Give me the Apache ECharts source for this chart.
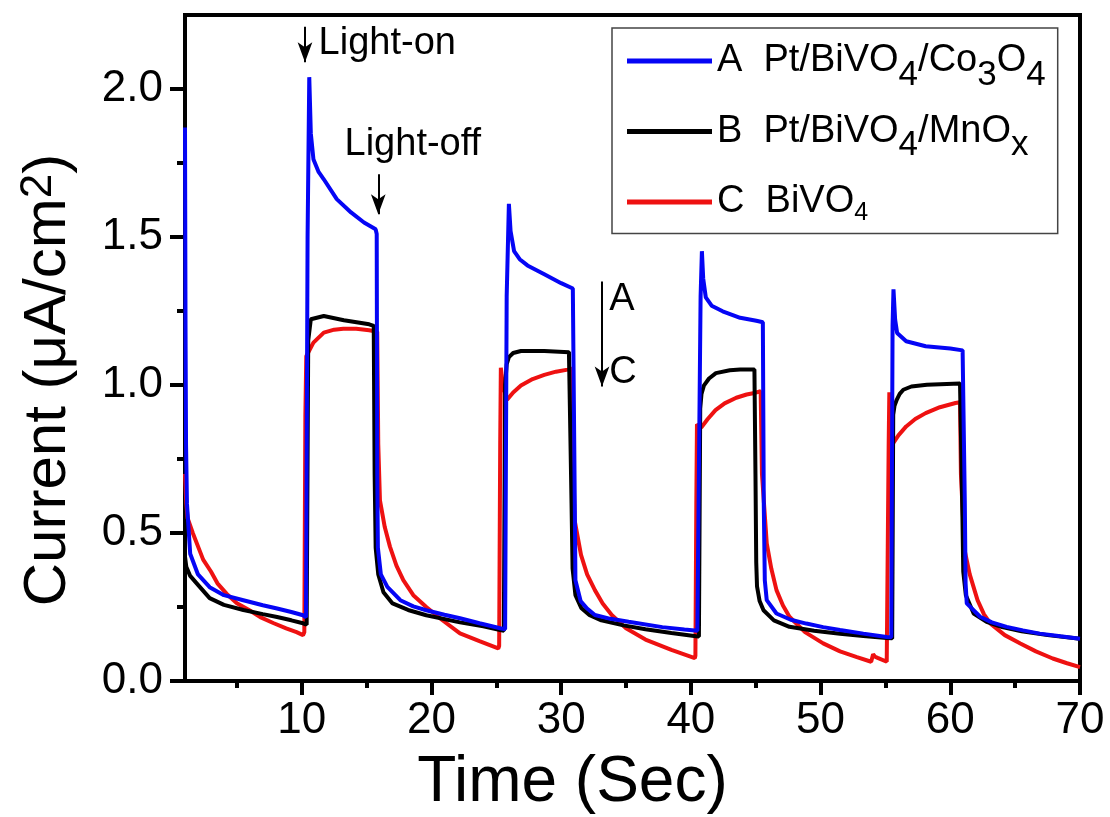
<!DOCTYPE html>
<html><head><meta charset="utf-8">
<script src="https://cdn.jsdelivr.net/npm/echarts@6/dist/echarts.min.js"></script>
<style>html,body{margin:0;padding:0;background:#fff}#c{width:1110px;height:817px}</style>
</head><body><div id="c"></div>
<script>
// ---- data ----
const xMajorTicks = [10, 20, 30, 40, 50, 60, 70];
const xMinorTicks = [5, 15, 25, 35, 45, 55, 65];
const yMajorTicks = [0, 0.5, 1.0, 1.5, 2.0];
const yMinorTicks = [0.25, 0.75, 1.25, 1.75];
const seriesNames = ['A', 'B', 'C'];
const legendTexts = {
  A: '{n|A  Pt/BiVO}{s|4}{n|/Co}{s|3}{n|O}{s|4}',
  B: '{n|B  Pt/BiVO}{s|4}{n|/MnO}{s|x}',
  C: '{n|C  BiVO}{c|4}'
};
const dataA = [[1.0,1.87],[1.04,1.2],[1.08,0.8],[1.15,0.6],[1.4,0.43],[2.0,0.36],[2.9,0.317],[4.0,0.29],[5.5,0.273],[7.0,0.256],[8.1,0.245],[9.2,0.233],[10.1,0.222],[10.33,0.215],
[10.45,1.5],[10.58,2.04],[10.7,1.85],[10.9,1.763],[11.3,1.72],[11.7,1.695],[12.7,1.628],[13.8,1.583],[14.8,1.549],[15.7,1.526],[15.78,1.51],
[15.82,0.7],[15.87,0.45],[16.1,0.36],[16.6,0.318],[17.6,0.273],[18.6,0.252],[19.6,0.239],[21,0.224],[22.2,0.212],[23.7,0.195],[25.3,0.178],[25.68,0.175],
[25.8,1.3],[25.97,1.612],[26.1,1.52],[26.37,1.452],[26.8,1.425],[27.4,1.404],[28.7,1.374],[30.0,1.344],[30.9,1.326],[31.0,1.32],
[31.05,0.6],[31.1,0.34],[31.5,0.27],[32.0,0.245],[32.6,0.223],[33.8,0.21],[35.2,0.2],[37.8,0.182],[39.5,0.174],[40.5,0.17],[40.62,0.17],
[40.75,1.3],[40.85,1.452],[40.95,1.36],[41.15,1.296],[41.6,1.268],[42.45,1.249],[43.8,1.227],[45.05,1.217],[45.55,1.212],
[45.62,0.6],[45.7,0.34],[45.85,0.273],[46.6,0.228],[47.7,0.207],[48.9,0.194],[50.2,0.182],[51.5,0.172],[53.3,0.16],[55.1,0.149],[55.45,0.148],
[55.55,1.2],[55.62,1.323],[55.75,1.22],[55.9,1.176],[56.6,1.148],[58.1,1.131],[60.0,1.123],[60.95,1.117],[61.05,1.115],
[61.12,0.6],[61.18,0.33],[61.27,0.262],[62.3,0.217],[63.2,0.198],[64.35,0.183],[65.6,0.171],[66.9,0.16],[68.5,0.151],[70,0.143]];
const dataB = [[1.0,0.42],[1.1,0.386],[1.4,0.355],[1.9,0.33],[2.9,0.28],[4.0,0.257],[5.5,0.24],[7.0,0.226],[8.1,0.216],[9.2,0.205],[10.1,0.195],[10.38,0.19],
[10.5,1.15],[10.7,1.222],[11.7,1.233],[13.25,1.219],[15.2,1.205],[15.55,1.2],
[15.62,0.7],[15.7,0.45],[15.9,0.36],[16.3,0.3],[17.0,0.262],[18.2,0.24],[19.6,0.222],[22.2,0.198],[24.0,0.185],[25.3,0.172],[25.58,0.17],
[25.68,1.0],[25.8,1.07],[25.97,1.094],[26.3,1.108],[26.9,1.115],[28.7,1.115],[30.6,1.111],[30.72,1.105],
[30.8,0.6],[30.88,0.38],[31.1,0.29],[31.55,0.247],[32.2,0.222],[33.1,0.205],[34.8,0.188],[36.5,0.175],[38.5,0.162],[40.4,0.151],[40.62,0.15],
[40.72,0.92],[40.82,0.97],[41.0,0.998],[41.4,1.022],[41.93,1.04],[43.0,1.05],[43.8,1.052],[44.9,1.052],
[44.98,0.7],[45.04,0.4],[45.1,0.32],[45.3,0.27],[45.6,0.239],[46.4,0.205],[47.6,0.183],[49.5,0.17],[51.5,0.16],[53.3,0.152],[55.1,0.145],[55.52,0.144],
[55.6,0.9],[55.7,0.93],[55.87,0.95],[56.1,0.97],[56.38,0.984],[57.0,0.995],[58.2,1.001],[60.75,1.005],[60.85,1.0],
[60.92,0.6],[61.0,0.37],[61.2,0.29],[61.8,0.228],[62.8,0.2],[64.0,0.182],[65.5,0.168],[67.5,0.155],[70,0.143]];
const dataC = [[1.0,0.70],[1.1,0.6],[1.2,0.55],[1.6,0.5],[2.4,0.41],[3.0,0.37],[3.5,0.33],[4.2,0.295],[5.0,0.263],[6.0,0.238],[6.8,0.216],[7.8,0.196],[8.8,0.178],[9.6,0.165],[10.1,0.155],[10.2,0.165],
[10.28,0.9],[10.35,1.097],[10.9,1.143],[11.7,1.177],[12.5,1.187],[13.2,1.19],[14.2,1.19],[15.2,1.185],[15.82,1.18],
[15.9,0.8],[16.03,0.61],[16.4,0.52],[16.8,0.454],[17.3,0.39],[17.83,0.341],[18.6,0.29],[19.6,0.25],[20.8,0.207],[22.2,0.161],[23.7,0.135],[25.15,0.11],[25.22,0.118],
[25.3,0.8],[25.35,1.058],[25.5,1.0],[25.83,0.95],[26.3,0.975],[26.9,0.998],[27.8,1.02],[28.7,1.034],[29.6,1.045],[30.5,1.052],[30.85,1.055],
[30.92,0.8],[31.03,0.545],[31.53,0.426],[32.0,0.36],[32.6,0.307],[33.2,0.262],[33.9,0.223],[35.0,0.178],[36.5,0.14],[38.5,0.105],[40.3,0.077],[40.35,0.085],
[40.42,0.6],[40.47,0.867],[40.8,0.856],[41.3,0.885],[41.9,0.915],[42.6,0.938],[43.5,0.957],[44.3,0.968],[45.0,0.974],[45.38,0.979],
[45.48,0.7],[45.85,0.465],[46.2,0.38],[46.6,0.307],[47.1,0.255],[47.6,0.217],[48.8,0.165],[50.2,0.127],[51.5,0.1],[52.8,0.081],[53.9,0.065],[54.05,0.09],[54.2,0.082],[54.4,0.078],[55.1,0.065],[55.2,0.07],
[55.25,0.8],[55.3,0.975],[55.38,0.85],[55.6,0.804],[56.0,0.83],[56.6,0.86],[57.3,0.885],[58.1,0.905],[59.2,0.925],[60.4,0.939],[60.75,0.942],
[60.82,0.7],[61.1,0.443],[61.5,0.36],[62.1,0.273],[62.6,0.225],[63.1,0.194],[64.2,0.155],[65.4,0.127],[66.6,0.1],[67.9,0.076],[69,0.06],[70,0.047]];
// annotation arrows: [x, yFrom, yTo] in data units
const arrows = [[10.25, 2.21, 2.09], [15.9, 1.712, 1.577], [33.15, 1.35, 0.995]];
// annotation texts: [label, x, y] in data units (left edge, vertical centre)
const notes = [['Light-on', 11.3, 2.152], ['Light-off', 13.3, 1.814], ['A', 33.7, 1.289], ['C', 33.7, 1.042]];

// ---- chart ----
const FONT = 'Liberation Sans, Arial, sans-serif';
const colors = {A: '#0505f5', B: '#000000', C: '#ee1111'};
const dataMap = {A: dataA, B: dataB, C: dataC};
const chart = echarts.init(document.getElementById('c'), null, {renderer: 'canvas'});

const series = ['C', 'B', 'A'].map(n => ({
  name: n, type: 'line', data: dataMap[n], showSymbol: false, symbol: 'none',
  lineStyle: {color: colors[n], width: 4}, itemStyle: {color: colors[n]},
  animation: false, z: 2
}));
// annotation layer
series.push({
  name: 'notes', type: 'line', data: [], showSymbol: false, animation: false, z: 5,
  markLine: {
    silent: true, animation: false, symbol: ['none', 'arrow'], symbolSize: [11, 20],
    lineStyle: {color: '#000', width: 2, type: 'solid'}, label: {show: false},
    data: arrows.map(a => [{coord: [a[0], a[1]]}, {coord: [a[0], a[2]]}])
  },
  markPoint: {
    silent: true, animation: false, symbol: 'circle', symbolSize: 0,
    label: {show: true, position: 'right', distance: 0, color: '#000', fontSize: 38, fontFamily: FONT,
      formatter: p => p.name},
    data: notes.map(t => ({name: t[0], coord: [t[1], t[2]]}))
  }
});

const axisLine = {show: true, lineStyle: {color: '#000', width: 4}};
chart.setOption({
  animation: false,
  backgroundColor: '#fff',
  grid: {left: 185, right: 30, top: 15, bottom: 136, containLabel: false, outerBoundsMode: 'none',
    show: true, borderColor: '#000', borderWidth: 4, backgroundColor: 'transparent'},
  legend: {
    data: seriesNames, orient: 'vertical', left: 612, top: 28,
    backgroundColor: '#fff', borderColor: '#444', borderWidth: 1.5,
    padding: [14, 12, 8, 15], itemGap: 20, itemWidth: 85, itemHeight: 5, icon: 'rect',
    textStyle: {
      fontFamily: FONT, color: '#000',
      rich: {
        n: {fontSize: 38, lineHeight: 40, fontFamily: FONT, color: '#000'},
        s: {fontSize: 35, lineHeight: 12, height: 12, verticalAlign: 'bottom', fontFamily: FONT, color: '#000'},
        c: {fontSize: 25, lineHeight: 18, height: 18, verticalAlign: 'bottom', fontFamily: FONT, color: '#000'}
      }
    },
    itemTextGap: 7,
    formatter: name => legendTexts[name],
    selectedMode: false
  },
  xAxis: [{
    type: 'value', min: 1, max: 70, position: 'bottom',
    axisLine: axisLine, splitLine: {show: false},
    axisTick: {show: true, length: 14, lineStyle: {width: 4, color: '#000'}, customValues: xMajorTicks},
    axisLabel: {show: true, margin: 18, fontSize: 44, fontFamily: FONT, color: '#000', customValues: xMajorTicks},
    name: 'Time (Sec)', nameLocation: 'middle', nameGap: 70,
    nameTextStyle: {fontSize: 64, fontFamily: FONT, color: '#000', padding: [0, 120, 0, 0]}
  }, {
    type: 'value', min: 1, max: 70, position: 'bottom',
    axisLine: {show: false}, splitLine: {show: false}, axisLabel: {show: false},
    axisTick: {show: true, length: 7, lineStyle: {width: 4, color: '#000'}, customValues: xMinorTicks}
  }],
  yAxis: [{
    type: 'value', min: 0, max: 2.25, position: 'left',
    axisLine: axisLine, splitLine: {show: false},
    axisTick: {show: true, length: 15, lineStyle: {width: 4, color: '#000'}, customValues: yMajorTicks},
    axisLabel: {show: true, margin: 22, fontSize: 44, fontFamily: FONT, color: '#000', customValues: yMajorTicks,
      formatter: v => v.toFixed(1)},
    name: '{t|Current (μA/cm}{p|2}{t|)}', nameLocation: 'middle', nameGap: 106, nameRotate: 90,
    nameTextStyle: {fontFamily: FONT, color: '#000', padding: [0, 64, 0, 0],
      rich: {
        t: {fontSize: 60, lineHeight: 62, fontFamily: FONT, color: '#000'},
        p: {fontSize: 44, lineHeight: 30, verticalAlign: 'top', fontFamily: FONT, color: '#000'}
      }}
  }, {
    type: 'value', min: 0, max: 2.25, position: 'left', offset: 0,
    axisLine: {show: false}, splitLine: {show: false}, axisLabel: {show: false},
    axisTick: {show: true, length: 8, lineStyle: {width: 4, color: '#000'}, customValues: yMinorTicks}
  }],
  series: series
});
</script>
</body></html>
